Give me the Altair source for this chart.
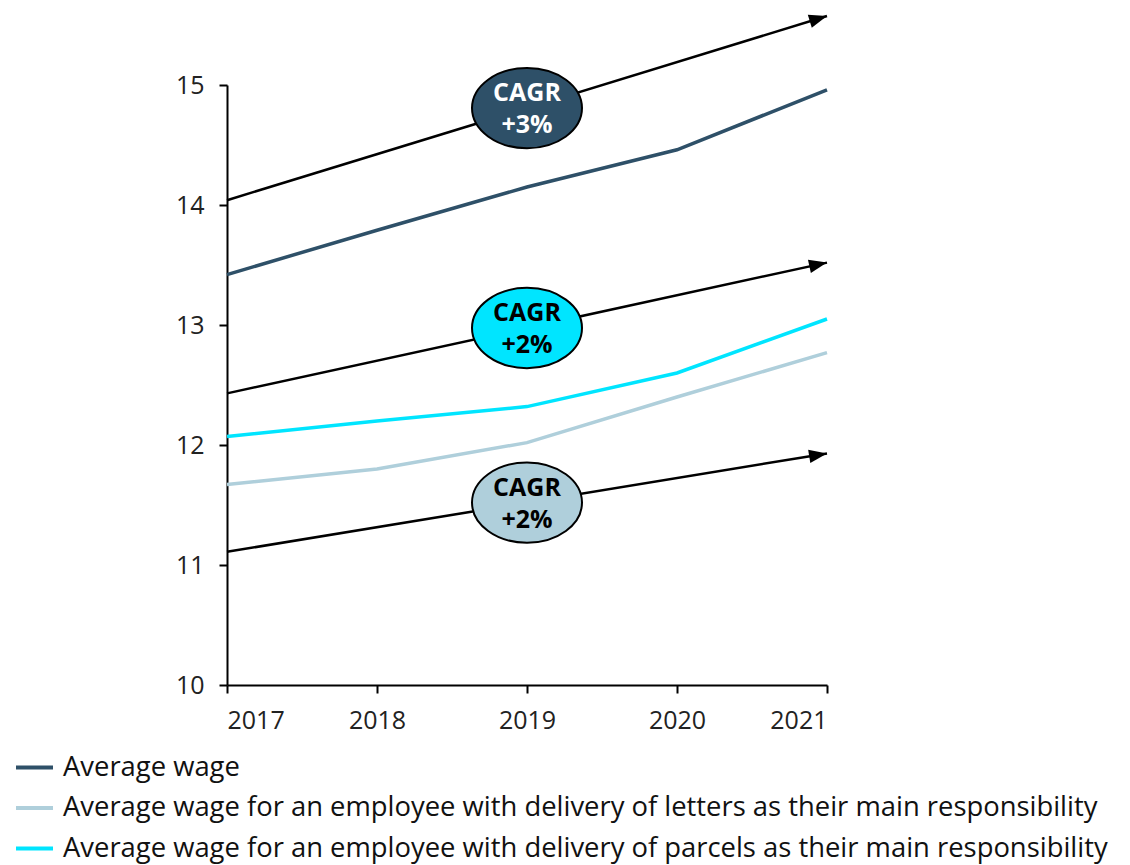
import math
import altair as alt
import pandas as pd

years = [2017, 2018, 2019, 2020, 2021]
series_names = [
    "Average wage",
    "Average wage for an employee with delivery of letters as their main responsibility",
    "Average wage for an employee with delivery of parcels as their main responsibility",
]
avg_wage = [13.42, 13.79, 14.15, 14.46, 14.96]
letters_wage = [11.67, 11.80, 12.02, 12.40, 12.77]
parcels_wage = [12.07, 12.20, 12.32, 12.60, 13.05]
series_colors = ["#2E5068", "#AFCFDB", "#00E5FF"]

arrow_start = [14.04, 12.43, 11.11]
arrow_end = [15.575, 13.52, 11.93]
cagr_labels = ["CAGR\n+3%", "CAGR\n+2%", "CAGR\n+2%"]
cagr_fill = ["#2E5068", "#00E5FF", "#AFCFDB"]
cagr_text_color = ["white", "black", "black"]

W, H = 600, 600
Y0, Y1 = 10, 15
X0, X1 = 2017, 2021
px_y = H / (Y1 - Y0)
px_x = W / (X1 - X0)

rows = []
for name, vals in zip(series_names, [avg_wage, letters_wage, parcels_wage]):
    for yr, v in zip(years, vals):
        rows.append({"series": name, "year": yr, "value": v})
lines_df = pd.DataFrame(rows)

arr_rows = []
for s, e, lab, f, tc in zip(arrow_start, arrow_end, cagr_labels, cagr_fill, cagr_text_color):
    ang = -math.degrees(math.atan((e - s) * px_y / ((X1 - X0) * px_x)))
    arr_rows.append({
        "x1": X0, "x2": X1, "y1": s, "y2": e,
        "angle": ang % 360,
        "mx": (X0 + X1) / 2, "my": (s + e) / 2,
        "label": lab, "fill": f, "tc": tc,
    })
arr_df = pd.DataFrame(arr_rows)

FONT = "Open Sans"
xscale = alt.Scale(domain=[X0, X1], nice=False, zero=False)
yscale = alt.Scale(domain=[Y0, Y1], nice=False, zero=False)

lines = alt.Chart(lines_df).mark_line(strokeWidth=3.5).encode(
    x=alt.X("year:Q", scale=xscale, title=None,
            axis=alt.Axis(values=years, format="d", grid=False, domainColor="black",
                          domainWidth=2, tickColor="black", tickWidth=2, tickSize=8,
                          labelFontSize=25, labelPadding=15, labelColor="#222",
                          labelFont=FONT)),
    y=alt.Y("value:Q", scale=yscale, title=None,
            axis=alt.Axis(values=[10, 11, 12, 13, 14, 15], format="d", grid=False,
                          domainColor="black", domainWidth=2, tickColor="black",
                          tickWidth=2, tickSize=8, labelFontSize=25, labelPadding=15,
                          labelColor="#222", labelFont=FONT)),
    color=alt.Color("series:N",
                    scale=alt.Scale(domain=series_names, range=series_colors),
                    legend=alt.Legend(title=None, orient="none", legendX=-213, legendY=662,
                                      direction="vertical", symbolType="stroke",
                                      symbolSize=1369, symbolStrokeWidth=4,
                                      labelFontSize=27.4, labelFont=FONT, labelColor="#111",
                                      labelLimit=0, rowPadding=6.5, labelOffset=8)),
    order="year:Q",
)

arrows = alt.Chart(arr_df).mark_rule(color="black", strokeWidth=2.5).encode(
    x="x1:Q", x2="x2:Q", y="y1:Q", y2="y2:Q",
)

heads = alt.Chart(arr_df).mark_point(
    shape="M0,0 L-2,-0.75 L-2,0.75 Z", size=324, filled=True, color="black", opacity=1
).encode(
    x="x2:Q", y="y2:Q", angle=alt.Angle("angle:Q", scale=None),
)

ellipses = alt.Chart(arr_df).mark_point(
    shape="M-1,0 A1,0.73 0 1,0 1,0 A1,0.73 0 1,0 -1,0 Z", size=12100,
    filled=True, stroke="black", strokeWidth=2, opacity=1, fillOpacity=1, strokeOpacity=1,
).encode(
    x="mx:Q", y="my:Q", fill=alt.Fill("fill:N", scale=None),
)

texts = alt.Chart(arr_df).mark_text(
    font=FONT, fontSize=25, fontWeight="bold", lineBreak="\n", lineHeight=32,
    align="center", baseline="middle", dy=-15,
).encode(
    x="mx:Q", y="my:Q", text="label:N", color=alt.Color("tc:N", scale=None),
)

chart = alt.layer(lines, arrows, heads, ellipses, texts).properties(
    width=W, height=H,
    autosize=alt.AutoSizeParams(type="none"),
    padding={"left": 219, "top": 77, "right": 294, "bottom": 180},
).configure(font=FONT, view=alt.ViewConfig(stroke=None))

chart.save("out.html", embed_options={"renderer": "svg", "actions": False})
